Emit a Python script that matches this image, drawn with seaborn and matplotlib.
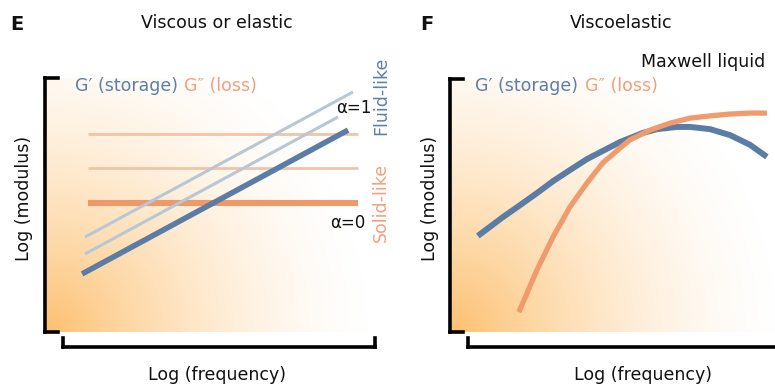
import numpy as np
import pandas as pd
import matplotlib
matplotlib.use("Agg")
import matplotlib.pyplot as plt
from matplotlib.lines import Line2D
import seaborn as sns

# ---------------- data (schematic, log units) ----------------
# Panel E: viscous or elastic
e_loss_x = [1.25, 9.48]
e_loss_thin_levels = [6.24, 5.17]          # faint G'' plateaus
e_loss_main_level = 4.06                   # alpha = 0 (solid-like)
e_store_upper_x = [1.16, 9.33]
e_store_upper_y = [2.99, 7.56]
e_store_mid_x = [1.16, 8.87]
e_store_mid_y = [2.46, 6.77]
e_store_main_x = [1.07, 9.18]              # alpha = 1 (fluid-like)
e_store_main_y = [1.83, 6.36]

# Panel F: viscoelastic (Maxwell liquid)
f_store_x = [0.80, 1.58, 2.11, 2.63, 3.13, 3.65, 4.18, 4.67, 5.20, 5.91,
             6.35, 6.97, 7.37, 7.99, 8.61, 9.23, 9.75]
f_store_y = [3.05, 3.65, 4.03, 4.41, 4.79, 5.14, 5.49, 5.75, 6.03, 6.32,
             6.44, 6.51, 6.51, 6.44, 6.25, 5.94, 5.56]
f_loss_x = [2.07, 2.35, 2.63, 3.13, 3.65, 4.18, 4.67, 4.89, 5.20, 5.51,
            6.13, 6.75, 7.37, 7.99, 8.61, 9.23, 9.75]
f_loss_y = [0.63, 1.30, 1.97, 3.02, 3.97, 4.73, 5.37, 5.56, 5.84, 6.10,
            6.41, 6.63, 6.79, 6.86, 6.92, 6.95, 6.95]

# ---------------- style ----------------
sns.set_theme(style="white")
plt.rcParams['font.family'] = ['DejaVu Sans']

BLUE = "#5b7ca5"
BLUE_LIGHT = "#b8c7d6"
ORANGE = "#ef9868"
ORANGE_LIGHT = "#f6c2a5"
ORANGE_TXT = "#f2a07a"
BLUE_TXT = "#5d7ea8"
GRAD = np.array([253, 192, 112]) / 255.0

W, H = 775, 385
fig = plt.figure(figsize=(W / 100, H / 100), dpi=100)
fig.patch.set_facecolor("white")


def fx(x):
    return x / W


def fy(y):
    return 1 - y / H


def add_axes_px(x0, y0, x1, y1):
    return fig.add_axes([fx(x0), fy(y1), (x1 - x0) / W, (y1 - y0) / H])


def gradient(ax, wpx, hpx, R):
    xx, yy = np.meshgrid(np.arange(wpx), np.arange(hpx))
    d = np.sqrt(xx ** 2 + yy ** 2)
    a = np.clip(1 - d / R, 0, 1) ** 1.6
    img = np.zeros((hpx, wpx, 4))
    img[..., :3] = GRAD
    img[..., 3] = a
    ax.imshow(img, origin="lower", extent=(0, 10, 0, 8), aspect="auto",
              interpolation="bilinear", zorder=0)


def line_px(x0, y0, x1, y1, lw=2.6):
    fig.add_artist(Line2D([fx(x0), fx(x1)], [fy(y0), fy(y1)], color="black",
                          lw=lw, solid_capstyle="projecting",
                          transform=fig.transFigure))


def text_px(x, y, s, **kw):
    kw.setdefault("fontsize", 12.5)
    kw.setdefault("va", "center")
    fig.text(fx(x), fy(y), s, **kw)


def draw(ax, xs, ys, color, lw):
    df = pd.DataFrame({"x": xs, "y": ys})
    sns.lineplot(data=df, x="x", y="y", ax=ax, color=color, lw=lw,
                 sort=False, solid_capstyle="butt", solid_joinstyle="round",
                 zorder=3, legend=False)


# ---------------- panel E ----------------
axE = add_axes_px(47, 78, 375, 332)
gradient(axE, 328, 254, 330)
for lvl in e_loss_thin_levels:
    draw(axE, e_loss_x, [lvl, lvl], ORANGE_LIGHT, 2.0)
draw(axE, e_loss_x, [e_loss_main_level, e_loss_main_level], ORANGE, 4.4)
draw(axE, e_store_upper_x, e_store_upper_y, BLUE_LIGHT, 2.2)
draw(axE, e_store_mid_x, e_store_mid_y, BLUE_LIGHT, 2.2)
draw(axE, e_store_main_x, e_store_main_y, BLUE, 4.0)
axE.set_xlim(0, 10)
axE.set_ylim(0, 8)
axE.axis("off")

# ---------------- panel F ----------------
axF = add_axes_px(452, 80, 775, 332)
gradient(axF, 323, 252, 335)
draw(axF, f_store_x, f_store_y, BLUE, 4.3)
draw(axF, f_loss_x, f_loss_y, "#f09b6e", 3.8)
axF.set_xlim(0, 10)
axF.set_ylim(0, 8)
axF.axis("off")

# ---------------- brackets ----------------
# E
line_px(45, 78, 45, 332)
line_px(45, 78, 58, 78)
line_px(45, 332, 58, 332)
line_px(63, 347, 375, 347)
line_px(63, 347, 63, 338)
line_px(375, 347, 375, 338)
# F
line_px(450, 79, 450, 332)
line_px(450, 79, 463, 79)
line_px(450, 332, 463, 332)
line_px(468, 347, 776, 347)
line_px(468, 347, 468, 338)

# ---------------- text ----------------
text_px(17, 25, "E", ha="center", fontsize=14, fontweight="bold", color="#111111")
text_px(217, 23, "Viscous or elastic", ha="center", color="#111111")
text_px(427, 25, "F", ha="center", fontsize=14, fontweight="bold", color="#111111")
text_px(621, 23, "Viscoelastic", ha="center", color="#111111")
text_px(765, 62, "Maxwell liquid", ha="right", color="#111111")

for x0, x1 in [(75, 184), (475, 585)]:
    text_px(x0, 86, "G\u2032 (storage)", ha="left", color=BLUE_TXT)
    text_px(x1, 86, "G\u2033 (loss)", ha="left", color=ORANGE_TXT)

for xc in [24, 430]:
    text_px(xc, 198, "Log (modulus)", ha="center", rotation=90, color="#111111")
for xc in [217, 643]:
    text_px(xc, 375, "Log (frequency)", ha="center", color="#111111")

text_px(354, 108, "\u03b1=1", ha="center", fontsize=12, color="#111111")
text_px(348, 223, "\u03b1=0", ha="center", fontsize=12, color="#111111")
text_px(381, 96, "Fluid-like", ha="center", rotation=90, color=BLUE_TXT)
text_px(381, 202, "Solid-like", ha="center", rotation=90, color=ORANGE_TXT)

fig.savefig("out.png", dpi=100, facecolor="white")
